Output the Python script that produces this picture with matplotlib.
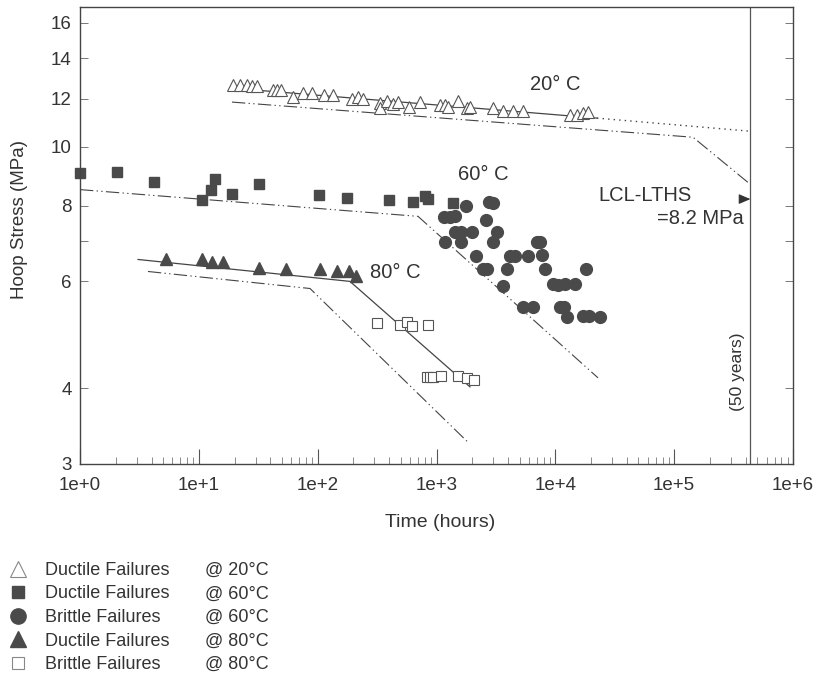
import matplotlib
matplotlib.use('Agg')
import matplotlib.pyplot as plt
from matplotlib.lines import Line2D
from matplotlib.ticker import FixedLocator, NullFormatter

plt.rcParams['font.family'] = ['Liberation Sans', 'DejaVu Sans']

# ductile failures @ 20C (open triangles)
t20_d = [19.4, 22.2, 25.4, 28.0, 30.9, 42.1, 45.5, 49.1, 62, 75, 90, 113, 135, 195, 219, 241,
         335, 335, 383, 431, 475, 587, 726, 1070, 1180, 1250, 1520, 1810, 1910, 2990, 3630,
         4400, 5350, 13300, 15200, 17100, 18800]
s20_d = [12.65, 12.65, 12.65, 12.6, 12.6, 12.4, 12.4, 12.4, 12.1, 12.25, 12.25, 12.15, 12.15, 12.0,
         12.1, 12.0, 11.8, 11.6, 11.9, 11.75, 11.85, 11.65, 11.85, 11.7, 11.7, 11.65, 11.9, 11.6,
         11.65, 11.6, 11.45, 11.45, 11.45, 11.3, 11.3, 11.35, 11.4]

# ductile failures @ 60C (filled squares)
t60_d = [1.0, 2.05, 4.2, 10.6, 12.7, 13.7, 19, 32, 103, 177, 398, 634, 801, 848, 1377]
s60_d = [9.04, 9.08, 8.74, 8.16, 8.48, 8.84, 8.35, 8.68, 8.32, 8.23, 8.16, 8.10, 8.29, 8.19, 8.07]

# brittle failures @ 60C (filled circles)
t60_b = [1157, 1299, 1432, 1771, 2767, 2990, 2610, 1432, 1608, 1990, 3230, 1179, 1608, 2990,
         7013, 7432, 2150, 4156, 4579, 5890, 7726, 2463, 2662, 3921, 8191, 18120, 3628, 9561,
         10530, 12060, 14640, 5346, 6489, 10950, 11830, 12540, 17100, 19200, 23770]
s60_b = [7.65, 7.65, 7.68, 7.98, 8.10, 8.07, 7.56, 7.25, 7.25, 7.25, 7.25, 6.96, 6.96, 6.96,
         6.96, 6.96, 6.60, 6.60, 6.60, 6.60, 6.62, 6.28, 6.28, 6.28, 6.28, 6.28, 5.89, 5.93,
         5.91, 5.95, 5.93, 5.45, 5.45, 5.45, 5.45, 5.25, 5.27, 5.27, 5.25]

# ductile failures @ 80C (filled triangles)
t80_d = [5.3, 10.6, 12.9, 16.0, 32, 54, 105, 146, 184, 210]
s80_d = [6.52, 6.52, 6.45, 6.47, 6.32, 6.28, 6.30, 6.23, 6.23, 6.13]

# brittle failures @ 80C (open squares)
t80_b = [316, 493, 565, 622, 848, 832, 882, 934, 1091, 1517, 1806, 2069]
s80_b = [5.13, 5.09, 5.15, 5.07, 5.09, 4.18, 4.18, 4.18, 4.19, 4.19, 4.16, 4.13]

# regression / LCL lines
fit20_t = [18.3, 22430]
fit20_s = [12.5, 11.15]
ext20_t = [22430, 434600]
ext20_s = [11.15, 10.61]
lcl20_t = [19.0, 144100, 434600]
lcl20_s = [11.85, 10.37, 8.68]
lcl60_t = [1.0, 699, 22870]
lcl60_s = [8.5, 7.68, 4.16]
fit80_t = [3.08, 187, 1914]
fit80_s = [6.52, 6.00, 4.02]
lcl80_t = [3.73, 86.2, 1806]
lcl80_s = [6.23, 5.84, 3.27]

t_50yr = 4.38e5
lths = 8.2

x_ticks = [1e0, 1e1, 1e2, 1e3, 1e4, 1e5, 1e6]
x_labels = ['1e+0', '1e+1', '1e+2', '1e+3', '1e+4', '1e+5', '1e+6']
y_ticks = [3, 4, 6, 7, 8, 10, 12, 14, 16]
y_labels = ['3', '4', '6', '', '8', '10', '12', '14', '16']

txt = '#333333'
mk = '#4a4a4a'
ln = '#444444'
dashdot = (0, (12, 3, 1.2, 3, 1.2, 3))

fig = plt.figure(figsize=(8.24, 6.77), dpi=100)
ax = fig.add_axes([80/824, 1-464/677, 713/824, 457/677])
ax.set_xscale('log')
ax.set_yscale('log')
ax.set_xlim(1, 1e6)
ax.set_ylim(3, 17)

ax.plot(fit20_t, fit20_s, color=ln, lw=0.9)
ax.plot(ext20_t, ext20_s, color=ln, lw=1.0, linestyle=(0, (1, 3)))
ax.plot(lcl20_t, lcl20_s, color=ln, lw=0.8, linestyle=dashdot)
ax.plot(lcl60_t, lcl60_s, color=ln, lw=0.8, linestyle=dashdot)
ax.plot(fit80_t, fit80_s, color=ln, lw=0.9)
ax.plot(lcl80_t, lcl80_s, color=ln, lw=0.8, linestyle=dashdot)
ax.axvline(t_50yr, color='#555555', lw=0.9)

ax.plot(t20_d, s20_d, ls='none', marker='^', ms=8, mfc='white', mec='#555555', mew=0.8)
ax.plot(t60_d, s60_d, ls='none', marker='s', ms=6.5, mfc=mk, mec=mk, clip_on=False)
ax.plot(t60_b, s60_b, ls='none', marker='o', ms=8.5, mfc=mk, mec=mk)
ax.plot(t80_d, s80_d, ls='none', marker='^', ms=8, mfc=mk, mec=mk)
ax.plot(t80_b, s80_b, ls='none', marker='s', ms=6.5, mfc='white', mec='#555555', mew=0.8)

ax.annotate('', xy=(t_50yr, lths), xytext=(3.9e5, lths),
            arrowprops=dict(arrowstyle='-|>,head_length=0.7,head_width=0.3',
                            color=txt, lw=0.8, shrinkA=0, shrinkB=0))

ax.text(6120, 12.65, '20° C', fontsize=14.5, color=txt, va='center')
ax.text(1517, 9.01, '60° C', fontsize=14.5, color=txt, va='center')
ax.text(275, 6.21, '80° C', fontsize=14.5, color=txt, va='center')
ax.text(22870, 8.32, 'LCL-LTHS', fontsize=14.5, color=txt, va='center')
ax.text(3.87e5, 7.62, '=8.2 MPa', fontsize=14.5, color=txt, va='center', ha='right')
ax.text(3.38e5, 4.26, '(50 years)', fontsize=12.5, color=txt, va='center', ha='center',
        rotation=90)

ax.xaxis.set_major_locator(FixedLocator(x_ticks))
ax.set_xticklabels(x_labels)
ax.xaxis.set_minor_locator(FixedLocator([m * 10**e for e in range(6) for m in range(2, 10)]))
ax.xaxis.set_minor_formatter(NullFormatter())
ax.yaxis.set_major_locator(FixedLocator(y_ticks))
ax.set_yticklabels(y_labels)
ax.yaxis.set_minor_locator(FixedLocator([]))
ax.tick_params(axis='x', which='major', direction='in', length=11, width=0.8, color='#555555',
               labelsize=13.5, labelcolor=txt, pad=9, top=False)
ax.tick_params(axis='x', which='minor', direction='in', length=5, width=0.6, color='#777777',
               top=False)
ax.tick_params(axis='y', which='major', direction='in', length=6, width=0.7, color='#777777',
               labelsize=13.5, labelcolor=txt, pad=6, right=True)
for sp in ax.spines.values():
    sp.set_color('#444444')
    sp.set_linewidth(1.0)

ax.set_xlabel('Time (hours)', fontsize=14, color=txt)
ax.set_ylabel('Hoop Stress (MPa)', fontsize=13.5, color=txt)
ax.xaxis.set_label_coords(0.505, -0.109)
ax.yaxis.set_label_coords(-0.073, 0.534)

# legend below the chart
handles = [
    Line2D([], [], ls='none', marker='^', ms=11, mfc='white', mec='#888888', mew=0.8),
    Line2D([], [], ls='none', marker='s', ms=9, mfc=mk, mec=mk),
    Line2D([], [], ls='none', marker='o', ms=11, mfc=mk, mec=mk),
    Line2D([], [], ls='none', marker='^', ms=11, mfc=mk, mec=mk),
    Line2D([], [], ls='none', marker='s', ms=9, mfc='white', mec='#888888', mew=0.8),
]
kinds = ['Ductile Failures', 'Ductile Failures', 'Brittle Failures', 'Ductile Failures',
         'Brittle Failures']
temps = ['@ 20°C', '@ 60°C', '@ 60°C', '@ 80°C', '@ 80°C']

leg1 = fig.legend(handles, kinds, loc='upper left', bbox_to_anchor=(9/824, 1-562/677),
                  frameon=False, fontsize=13, handlelength=1.0, handletextpad=1.0,
                  labelspacing=0.36, borderpad=0, borderaxespad=0, labelcolor=txt)
blank = [Line2D([], [], ls='none') for _ in temps]
leg2 = fig.legend(blank, temps, loc='upper left', bbox_to_anchor=(205/824, 1-562/677),
                  frameon=False, fontsize=13, handlelength=0, handletextpad=0,
                  labelspacing=0.36, borderpad=0, borderaxespad=0, labelcolor=txt)

fig.savefig('out.png', dpi=100, facecolor='white')
